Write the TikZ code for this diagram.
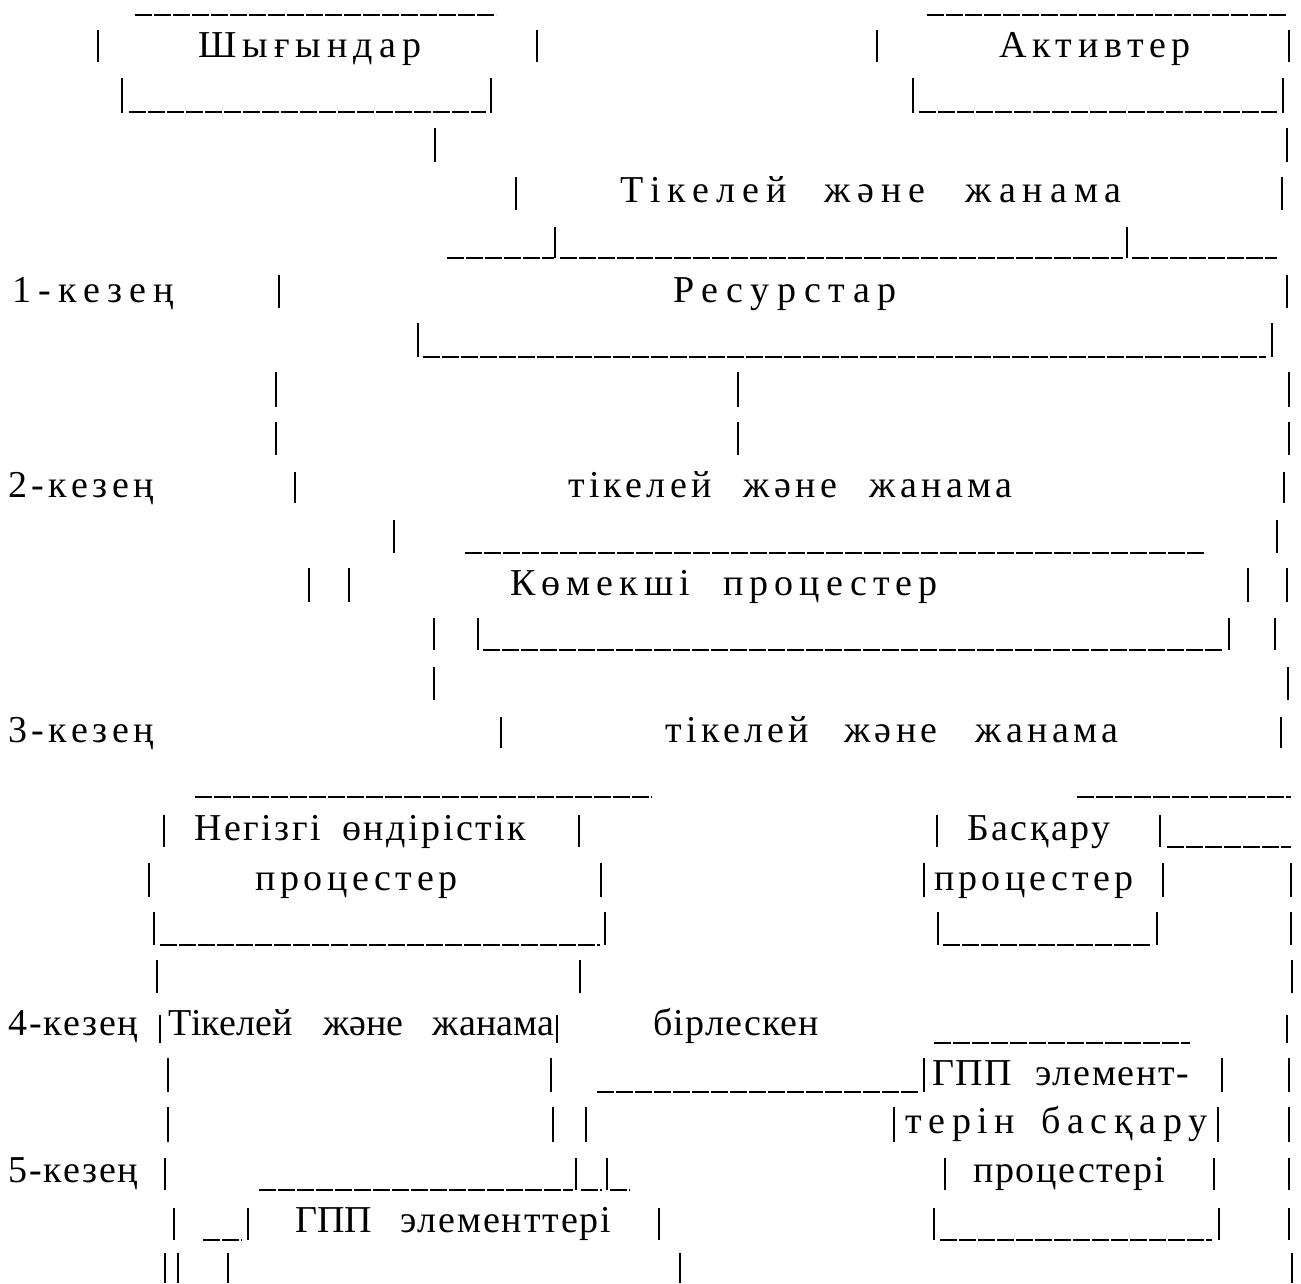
\documentclass[tikz,border=0pt]{standalone}
\usepackage{fontspec}
\setmainfont{Liberation Serif}
\newcommand{\lsp}[2]{{\addfontfeature{LetterSpace=#1}#2}}

\begin{document}
\begin{tikzpicture}[x=1pt, y=-1pt,
		every node/.style={anchor=base west, inner sep=0pt, font=\fontsize{38}{40}\selectfont},
		bar/.style={line width=1.4pt},
		uline/.style={line width=1.6pt, dash pattern=on 17pt off 2pt}]
		\useasboundingbox (0,0) rectangle (1301,1283);
		
		%Striche
		\foreach \x/\a/\b in {98/30/62, 537/30/62, 877/30/62, 1289/30/62,
			122/78/113, 491/78/113, 913/78/113, 1283/78/113,
			435/128/162, 1287/128/162, 516/177/210, 1282/177/210,
			555/227/258, 1127/227/258, 279/275/308, 1287/275/308,
			418/323/357, 1272/323/357,
			276/372/407, 738/372/407, 1289/372/407,
			276/422/455, 738/422/455, 1289/422/455,
			295/472/503, 1284/472/503, 394/520/553, 1277/520/553,
			309/568/602, 349/568/602, 1248/568/602, 1287/568/602,
			434/618/650, 478/618/650, 1229/618/650, 1275/618/650,
			434/667/700, 1288/667/700, 501/717/748, 1281/717/748,
			164/815/847, 579/815/847, 937/815/847, 1160/815/847,
			149/863/897, 601/863/897, 924/863/897, 1163/863/897, 1291/863/897,
			154/912/945, 605/912/945, 938/912/945, 1157/912/945, 1291/912/945,
			157/960/993, 580/960/993, 1292/960/993,
			160/1015/1043, 557/1015/1043, 1287/1015/1043,
			168/1058/1092, 551/1058/1092, 924/1058/1092, 1222/1058/1092, 1289/1058/1092,
			168/1107/1142, 553/1107/1142, 586/1107/1142, 894/1107/1142, 1218/1107/1142, 1289/1107/1142,
			165/1158/1190, 576/1158/1190, 607/1158/1190, 945/1158/1190, 1214/1158/1190, 1289/1158/1190,
			174/1208/1240, 248/1208/1240, 659/1208/1240, 934/1208/1240, 1219/1208/1240, 1289/1208/1240,
			165/1253/1283, 178/1253/1283, 228/1253/1283, 680/1253/1283, 1292/1253/1283} {
			\draw[bar] (\x,\a) -- (\x,\b);
		}
		
		%Unterstriche
		\foreach \a/\b/\y in {135/496/15, 927/1287/15, 129/486/112, 919/1277/112,
			447/554/258, 560/1123/258, 1132/1277/258, 423/1266/357,
			465/1206/553, 483/1223/650, 195/652/797, 1077/1291/797,
			1167/1291/847, 160/600/945, 943/1152/945, 934/1190/1043,
			597/918/1092, 259/573/1190, 581/602/1190, 610/630/1190,
			203/242/1240, 940/1212/1240} {
			\draw[uline] (\a,\y) -- (\b,\y);
		}
		
		%Texte
		\node (shyg) at (198,57) {\lsp{16}{Шығындар}};
		\node (aktiv) at (999,57) {\lsp{15}{Активтер}};
		\node (tik1) at (620,202) {\lsp{18.4}{Тікелей\hspace{38pt}және\hspace{40pt}жанама}};
		\node (kez1) at (12,302) {\lsp{19}{1-кезең}};
		\node (res) at (673,302) {\lsp{20}{Ресурстар}};
		\node (kez2) at (8,497) {\lsp{12}{2-кезең}};
		\node (tik2) at (568,497) {\lsp{11.3}{тікелей\hspace{32pt}және\hspace{33pt}жанама}};
		\node (komek) at (510,595) {\lsp{16}{Көмекші\hspace{33pt}процестер}};
		\node (kez3) at (8,742) {\lsp{12}{3-кезең}};
		\node (tik3) at (665,742) {\lsp{11.5}{тікелей\hspace{35pt}және\hspace{38pt}жанама}};
		\node (negiz) at (194,840) {\lsp{6.7}{Негізгі\hspace{21pt}өндірістік}};
		\node (proc1) at (255,890) {\lsp{12}{процестер}};
		\node (basq) at (967,840) {\lsp{6.6}{Басқару}};
		\node (proc2) at (934,890) {\lsp{11}{процестер}};
		\node (kez4) at (8,1035) {\lsp{5}{4-кезең}};
		\node (tik4) at (168,1035) {Тікелей\hspace{31pt}және\hspace{29pt}жанама};
		\node (birl) at (653,1035) {\lsp{3}{бірлескен}};
		\node (gpp1) at (932,1085) {\lsp{4.5}{ГПП\hspace{23pt}элемент-}};
		\node (terin) at (905,1133) {\lsp{17.6}{терін\hspace{26pt}басқару}};
		\node (kez5) at (8,1182) {\lsp{5}{5-кезең}};
		\node (proc3) at (973,1182) {\lsp{4.4}{процестері}};
		\node (gpp2) at (295,1232) {ГПП\hspace{28pt}\lsp{5}{элементтері}};
	\end{tikzpicture}
\end{document}
